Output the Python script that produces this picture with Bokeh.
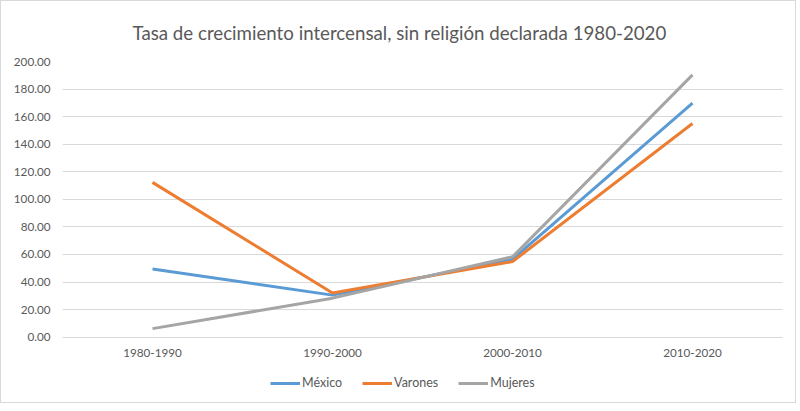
from bokeh.plotting import figure
from bokeh.models import Legend, LegendItem, NumeralTickFormatter, FixedTicker, ColumnDataSource
from bokeh.embed import file_html
from bokeh.resources import INLINE

periods = ["1980-1990", "1990-2000", "2000-2010", "2010-2020"]
mexico = [49.5, 30.5, 56.5, 169.8]
varones = [112.3, 32.0, 54.8, 155.0]
mujeres = [6.2, 28.3, 58.3, 190.3]
y_ticks = [0, 20, 40, 60, 80, 100, 120, 140, 160, 180, 200]

FONT = "Lato"
TXT = "#595959"

# extended lower range leaves room for category labels and legend inside frame
p = figure(x_range=periods, y_range=(-44.5, 200), width=796, height=403,
           output_backend="svg", toolbar_location=None,
           min_border_left=61, min_border_right=15, min_border_top=60,
           min_border_bottom=6)
p.styles = {"border": "1px solid #d9d9d9"}

p.title.text = "Tasa de crecimiento intercensal, sin religión declarada 1980-2020"
p.title.align = "left"
p.title.offset = 70
p.title.text_font = FONT
p.title.text_font_size = "18.7px"
p.title.text_font_style = "normal"
p.title.text_color = TXT
p.title.standoff = 35

p.outline_line_color = None
p.xgrid.grid_line_color = None
p.ygrid.grid_line_color = "#d9d9d9"
p.ygrid.grid_line_width = 1
p.ygrid.ticker = FixedTicker(ticks=y_ticks)

p.yaxis.ticker = FixedTicker(ticks=y_ticks)
p.yaxis.formatter = NumeralTickFormatter(format="0.00")
p.yaxis.axis_line_color = None
p.yaxis.major_tick_line_color = None
p.yaxis.minor_tick_line_color = None
p.yaxis.major_tick_out = 0
p.yaxis.major_label_standoff = 12
p.yaxis.major_label_text_font = FONT
p.yaxis.major_label_text_font_size = "11.7px"
p.yaxis.major_label_text_color = TXT

p.xaxis.visible = False

# category labels under the zero line
lab = ColumnDataSource(dict(x=periods, y=[0] * len(periods), t=periods))
p.text(x="x", y="y", text="t", source=lab, text_align="center",
       text_baseline="middle", y_offset=16, text_font_size="11.7px",
       text_color=TXT, text_font={"value": FONT})

r1 = p.line(periods, mexico, line_color="#5B9BD5", line_width=3)
r2 = p.line(periods, varones, line_color="#ED7D31", line_width=3)
r3 = p.line(periods, mujeres, line_color="#A5A5A5", line_width=3)

legend = Legend(items=[LegendItem(label="México", renderers=[r1]),
                       LegendItem(label="Varones", renderers=[r2]),
                       LegendItem(label="Mujeres", renderers=[r3])],
                orientation="horizontal", location=(208, 8),
                glyph_width=30, glyph_height=12, label_standoff=2, spacing=20,
                padding=4, margin=0, border_line_color=None,
                background_fill_alpha=0,
                label_text_font=FONT, label_text_font_size="12.5px",
                label_text_color=TXT)
p.add_layout(legend, "center")

open("out.html", "w").write(file_html(p, INLINE))
